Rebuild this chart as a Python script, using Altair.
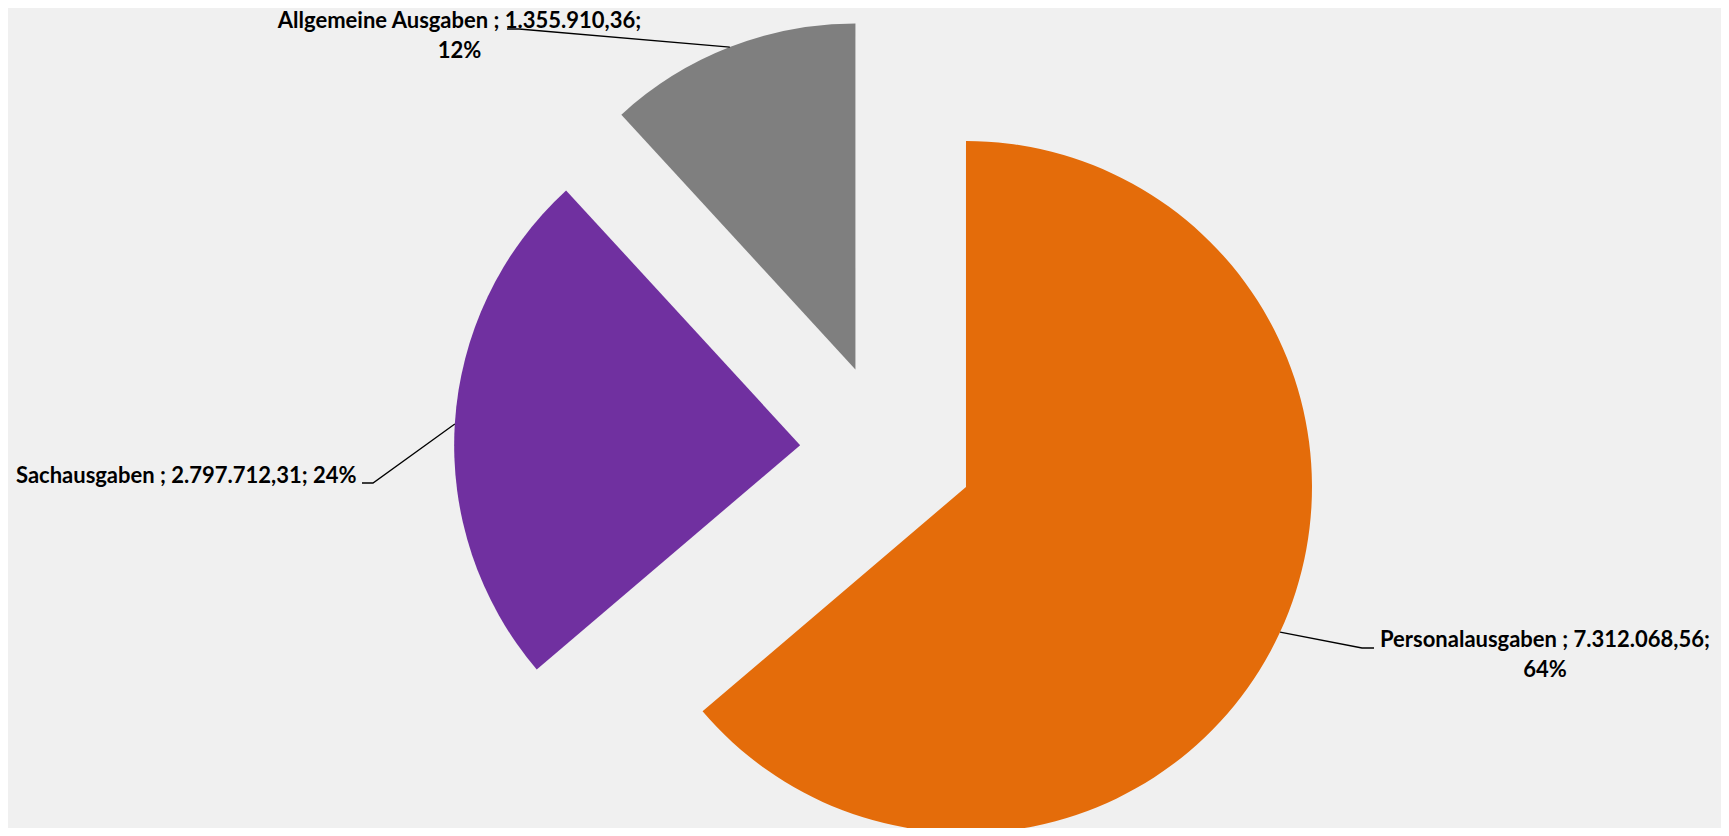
import math
import altair as alt
import pandas as pd

# ---- data ----
categories = ["Personalausgaben", "Sachausgaben", "Allgemeine Ausgaben"]
values = [7312068.56, 2797712.31, 1355910.36]
colors = ["#E46C0A", "#7030A0", "#7F7F7F"]

# ---- layout (pixels in chart coordinates) ----
W, H = 1713, 820
CX, CY = 879, 442.5
R = 346
EXPLODE = 87
FS = 22
# leader elbow / end points and label anchors (label y = top of first text line)
elbows = [(1354, 640), (365, 475), (511, 21)]
ends = [(1366, 640), (354, 475), (499, 21)]
label_pos = [(1537, 639 - 0.79 * FS), (8, 475 - 0.79 * FS), (451.5, 20 - 0.79 * FS)]
label_align = ["center", "left", "center"]
label_wrap = [True, False, True]


def de(v):
    s = f"{v:,.2f}"
    return s.replace(",", "X").replace(".", ",").replace("X", ".")


total = sum(values)
pcts = [round(v / total * 100) for v in values]

pie_df = pd.DataFrame({"category": categories, "value": values, "order": list(range(len(values)))})

# leader lines derived from slice geometry
rows = []
cum = 0.0
for i, (c, v) in enumerate(zip(categories, values)):
    start = cum / total
    cum += v
    end = cum / total
    mid = (start + end) / 2 * 2 * math.pi
    cx = CX + EXPLODE * math.sin(mid)
    cy = CY - EXPLODE * math.cos(mid)
    px = cx + R * math.sin(mid)
    py = cy - R * math.cos(mid)
    rows.append({"category": c, "i": 0, "x": px, "y": py})
    rows.append({"category": c, "i": 1, "x": elbows[i][0], "y": elbows[i][1]})
    rows.append({"category": c, "i": 2, "x": ends[i][0], "y": ends[i][1]})
line_df = pd.DataFrame(rows)

labels = []
for i, (c, v, p) in enumerate(zip(categories, values, pcts)):
    sep = "\n" if label_wrap[i] else " "
    labels.append({
        "category": c,
        "label": f"{c} ; {de(v)};{sep}{p}%",
        "x": label_pos[i][0],
        "y": label_pos[i][1],
        "align": label_align[i],
    })
label_df = pd.DataFrame(labels)

pie = alt.Chart(pie_df).transform_joinaggregate(
    total="sum(value)"
).transform_window(
    cum="sum(value)", sort=[alt.SortField("order")], frame=[None, 0]
).transform_calculate(
    start="(datum.cum - datum.value) / datum.total",
    end="datum.cum / datum.total",
).transform_calculate(
    mid="(datum.start + datum.end) * PI",
).transform_calculate(
    cx=f"{CX} + {EXPLODE} * sin(datum.mid)",
    cy=f"{CY} - {EXPLODE} * cos(datum.mid)",
).mark_arc(outerRadius=R, innerRadius=0, strokeWidth=0).encode(
    theta=alt.Theta("start:Q", scale=alt.Scale(domain=[0, 1], range=[0, 2 * math.pi])),
    theta2="end:Q",
    x=alt.X("cx:Q", scale=None, axis=None),
    y=alt.Y("cy:Q", scale=None, axis=None),
    color=alt.Color("category:N", scale=alt.Scale(domain=categories, range=colors), legend=None),
)

leaders = alt.Chart(line_df).mark_line(color="#000000", strokeWidth=1.3).encode(
    x=alt.X("x:Q", scale=None, axis=None),
    y=alt.Y("y:Q", scale=None, axis=None),
    detail="category:N",
    order="i:Q",
)

text_common = dict(font="Lato", fontWeight="bold", fontSize=FS, lineHeight=30,
                   baseline="top", lineBreak="\n", color="#000000")

text_center = alt.Chart(label_df).transform_filter("datum.align == 'center'").mark_text(
    align="center", **text_common
).encode(
    x=alt.X("x:Q", scale=None, axis=None),
    y=alt.Y("y:Q", scale=None, axis=None),
    text="label:N",
)
text_left = alt.Chart(label_df).transform_filter("datum.align == 'left'").mark_text(
    align="left", **text_common
).encode(
    x=alt.X("x:Q", scale=None, axis=None),
    y=alt.Y("y:Q", scale=None, axis=None),
    text="label:N",
)

chart = alt.layer(pie, leaders, text_center, text_left).properties(
    width=W, height=H, padding=0, autosize=alt.AutoSizeParams(type="none"),
    background="#F0F0F0",
).configure_view(stroke=None)

chart.save("out.html", embed_options={"renderer": "svg", "actions": False})
